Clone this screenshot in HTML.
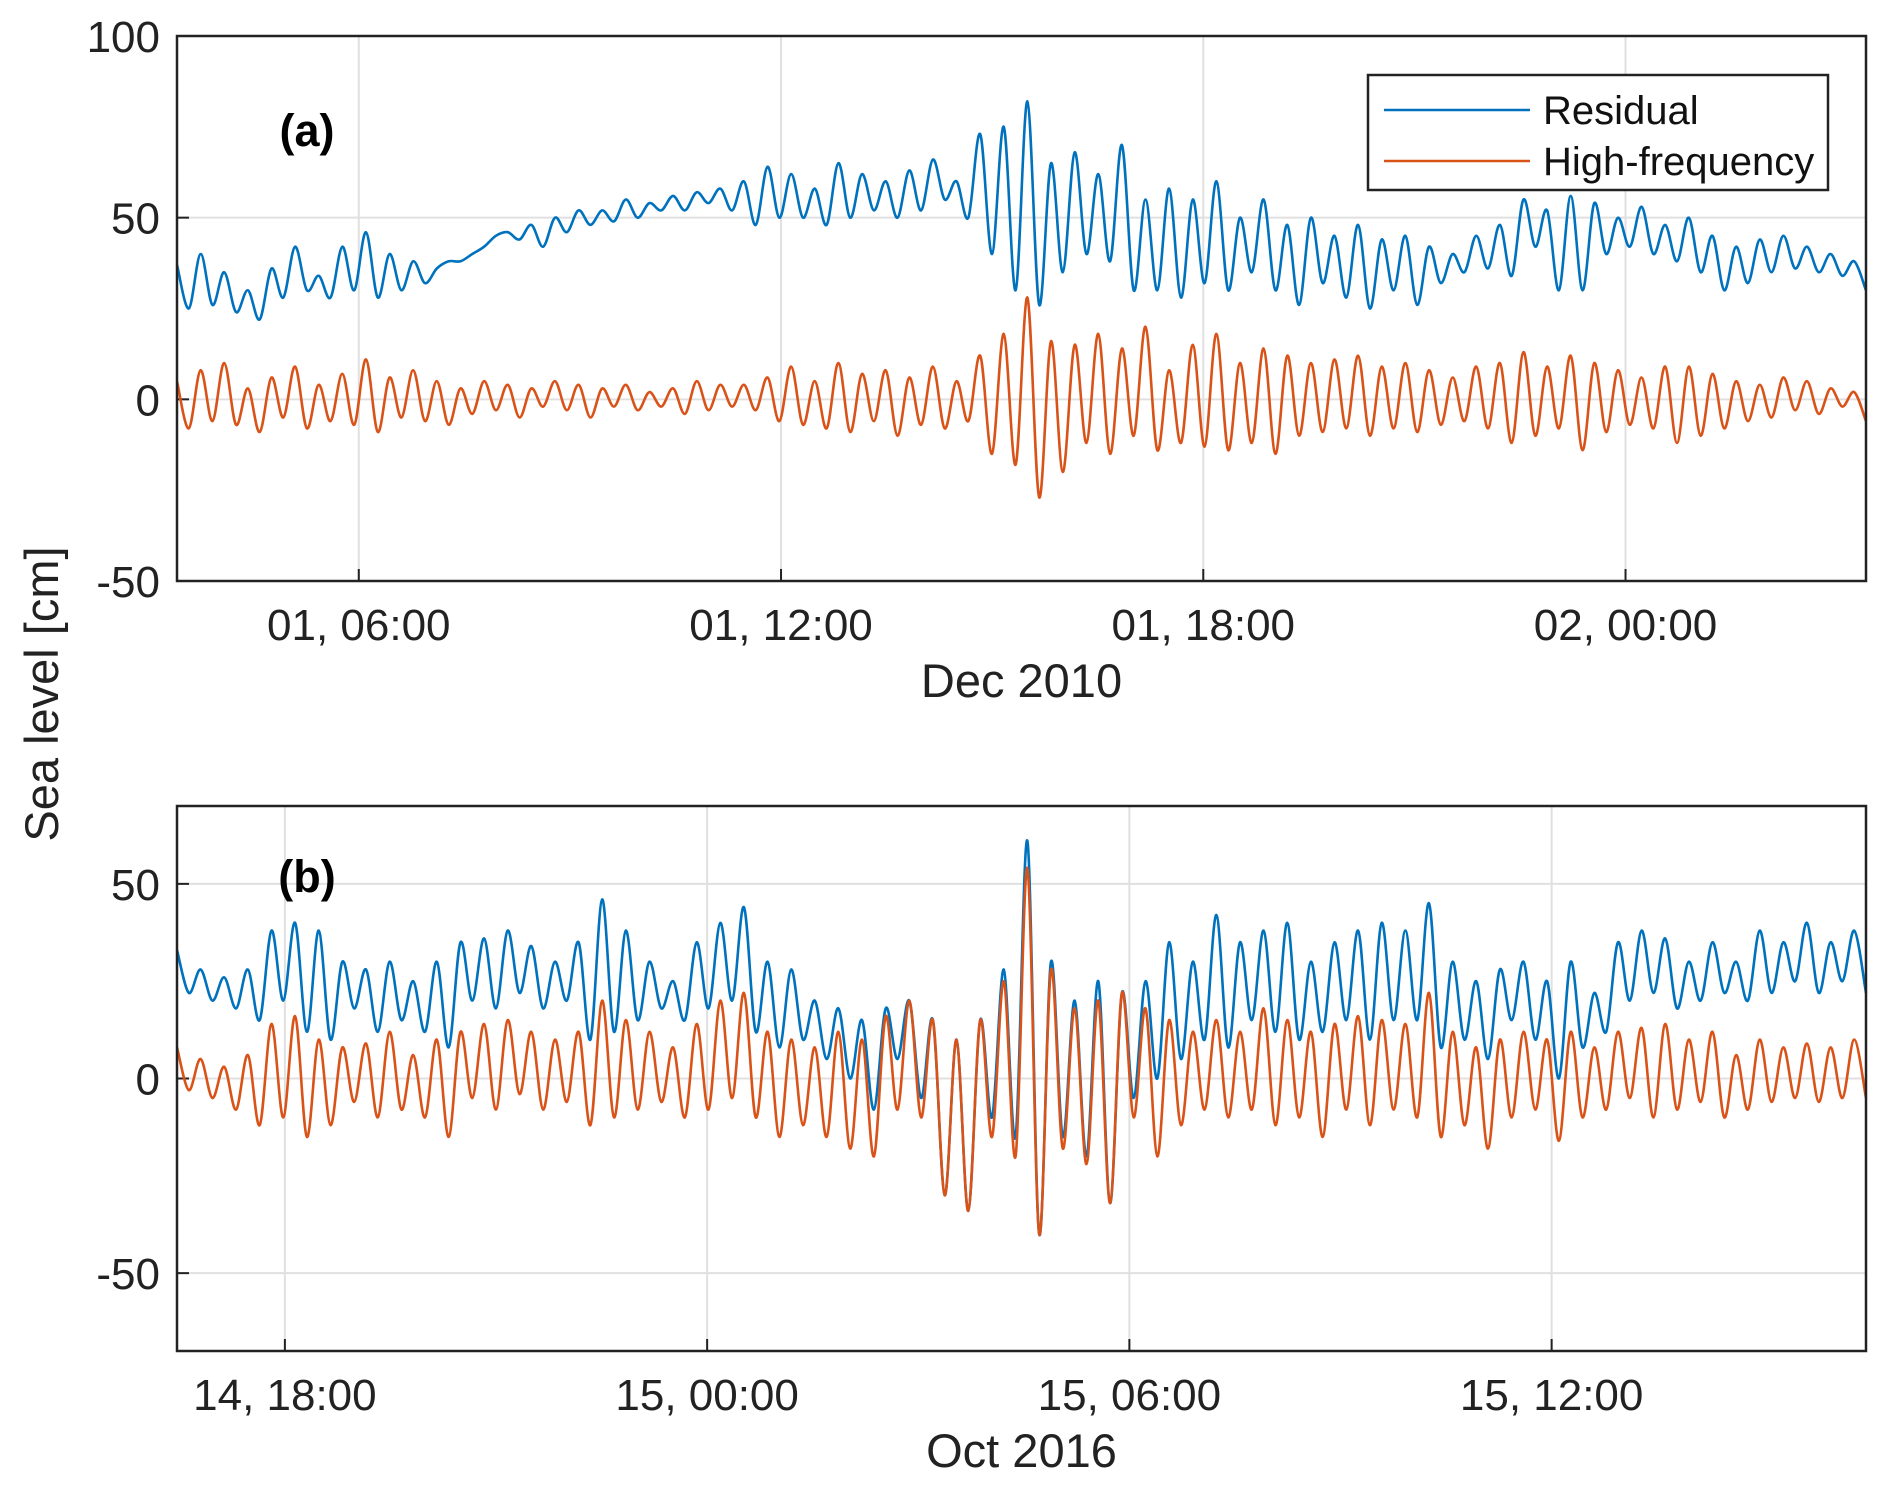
<!DOCTYPE html>
<html><head><meta charset="utf-8"><style>
html,body{margin:0;padding:0;background:#fff;}
svg{display:block;font-family:"Liberation Sans",Arial,sans-serif;}
</style></head><body>
<svg id="chart" width="1892" height="1487" viewBox="0 0 1892 1487" xmlns="http://www.w3.org/2000/svg">
<rect width="1892" height="1487" fill="#fff"/>
<text x="0" y="0" transform="translate(58,694) rotate(-90)" font-size="47" text-anchor="middle" fill="#222">Sea level [cm]</text>
<g id="pa"></g>
<g id="pb"></g>
</svg>
<script>
// Panel (a): Dec 2010, 10-minute samples from 01 03:25
const aTicks = ["01, 06:00","01, 12:00","01, 18:00","02, 00:00"];
const aYTicks = [100,50,0,-50];
const aResidual = [37,25,40,26,35,24,30,22,36,28,42,30,
34,28,42,30,46,28,40,30,38,32,36,38,
38,40,42,45,46,44,48,42,50,46,52,48,
52,49,55,50,54,52,56,52,57,54,58,52,
60,48,64,50,62,50,58,48,65,50,62,52,
60,50,63,52,66,55,60,50,73,40,75,30,
82,26,65,35,68,40,62,38,70,30,55,30,
58,28,55,32,60,30,50,35,55,30,48,26,
50,32,45,28,48,25,44,30,45,26,42,32,
40,35,45,36,48,34,55,42,52,30,56,30,
54,40,50,42,53,40,48,38,50,35,45,30,
42,32,44,35,45,36,42,35,40,34,38,30];
const aHighFreq = [5,-8,8,-6,10,-7,3,-9,6,-5,9,-8,
4,-6,7,-7,11,-9,6,-5,8,-6,5,-7,
3,-4,5,-3,4,-5,3,-2,5,-3,4,-5,
3,-2,4,-3,2,-2,3,-4,5,-3,4,-2,
4,-3,6,-6,9,-7,5,-8,10,-9,7,-6,
8,-10,6,-7,9,-8,5,-6,12,-15,18,-18,
28,-27,16,-20,15,-12,18,-15,14,-10,20,-14,
8,-12,15,-13,18,-14,10,-12,14,-15,12,-10,
10,-9,11,-8,12,-10,9,-8,10,-9,8,-7,
6,-6,9,-8,10,-12,13,-10,9,-8,12,-14,
10,-9,8,-7,6,-8,9,-12,9,-10,7,-8,
5,-6,4,-5,6,-3,5,-4,3,-2,2,-6];
// Panel (b): Oct 2016, 10-minute samples from 14 16:28
const bTicks = ["14, 18:00","15, 00:00","15, 06:00","15, 12:00"];
const bYTicks = [50,0,-50];
const bResidual = [33,22,28,20,26,18,28,15,38,20,40,12,
38,10,30,18,28,12,30,15,25,12,30,8,
35,20,36,18,38,22,34,18,30,20,35,10,
46,12,38,15,30,18,25,15,35,18,40,20,
44,12,30,8,28,10,20,5,18,0,15,-8,
18,5,20,-5,15,-30,10,-34,15,-10,28,-15,
61,-40,30,-15,20,-20,25,-32,22,-5,25,0,
35,5,30,10,42,8,35,15,38,12,40,10,
30,12,35,15,38,10,40,15,38,15,45,8,
30,10,25,5,28,15,30,10,25,0,30,8,
22,12,35,20,38,22,36,18,30,20,35,22,
30,20,38,22,35,25,40,22,35,25,38,22];
const bHighFreq = [8,-3,5,-5,3,-8,6,-12,14,-10,16,-15,
10,-12,8,-6,9,-10,12,-8,6,-10,10,-15,
12,-5,14,-8,15,-4,12,-8,10,-6,12,-12,
20,-10,15,-8,12,-6,8,-10,14,-8,20,-5,
22,-10,12,-15,10,-12,8,-15,12,-18,10,-20,
16,-8,20,-10,15,-30,10,-34,15,-15,25,-20,
54,-40,28,-18,18,-22,20,-32,22,-10,18,-20,
15,-12,12,-8,15,-10,12,-8,18,-12,15,-10,
12,-15,14,-8,16,-12,15,-8,14,-10,22,-15,
12,-12,8,-18,10,-10,12,-8,10,-16,12,-10,
8,-8,12,-5,13,-10,14,-8,10,-6,12,-10,
6,-8,10,-6,8,-5,9,-6,8,-5,10,-5];

const NS="http://www.w3.org/2000/svg";
function mk(parent,tag,attrs){const e=document.createElementNS(NS,tag);for(const k in attrs)e.setAttribute(k,attrs[k]);parent.appendChild(e);return e;}
function smoothPath(pts){
  let d='M'+pts[0][0].toFixed(1)+','+pts[0][1].toFixed(1);
  for(let i=0;i<pts.length-1;i++){
    const p0=pts[Math.max(0,i-1)],p1=pts[i],p2=pts[i+1],p3=pts[Math.min(pts.length-1,i+2)];
    const c1=[p1[0]+(p2[0]-p0[0])/6,p1[1]+(p2[1]-p0[1])/6];
    const c2=[p2[0]-(p3[0]-p1[0])/6,p2[1]-(p3[1]-p1[1])/6];
    d+='C'+c1[0].toFixed(1)+','+c1[1].toFixed(1)+' '+c2[0].toFixed(1)+','+c2[1].toFixed(1)+' '+p2[0].toFixed(1)+','+p2[1].toFixed(1);
  }
  return d;
}

function panel(g,cfg){
  const L=177,R=1866,T=cfg.top,B=cfg.bottom;
  const y=v=>T+(cfg.ymax-v)/(cfg.ymax-cfg.ymin)*(B-T);
  const hours=24; const x=h=>L+h/hours*(R-L);
  cfg.yticks.forEach(v=>{
    const l=mk(g,'line',{x1:L,x2:R,y1:y(v),y2:y(v),stroke:'#e0e0e0','stroke-width':2});
    
    
    const t=mk(g,'text',{x:L-17,y:y(v)+16,'font-size':44,'text-anchor':'end',fill:'#222'});
    t.textContent=v;
    
    
    const tk=mk(g,'line',{x1:L,x2:L+12,y1:y(v),y2:y(v),stroke:'#222','stroke-width':2});
    
    
  });
  cfg.xticks.forEach((lab,i)=>{
    const xx=x(cfg.firstTick+6*i);
    const l=mk(g,'line',{x1:xx,x2:xx,y1:T,y2:B,stroke:'#e0e0e0','stroke-width':2});
    
    
    const tk=mk(g,'line',{x1:xx,x2:xx,y1:B,y2:B-12,stroke:'#222','stroke-width':2});
    
    
    const t=mk(g,'text',{x:xx,y:B+59,'font-size':44,'text-anchor':'middle',fill:'#222'});
    t.textContent=lab;
    
    
  });
  const series=[[cfg.res,'#0072BD','residual-line'],[cfg.hf,'#D95319','high-frequency-line']];
  series.forEach(([arr,col,name])=>{
    const n=arr.length;
    const pts=arr.map((v,i)=>[x(i*hours/(n-1)),y(v)]);
    const p=mk(g,'path',{d:smoothPath(pts),fill:'none',stroke:col,'stroke-width':2.6,'stroke-linejoin':'round'});
    
    
  });
  const box=mk(g,'rect',{x:L,y:T,width:R-L,height:B-T,fill:'none',stroke:'#222','stroke-width':2.5});
  
  
  const pl=mk(g,'text',{x:307,y:cfg.labelY,'font-size':45,'font-weight':'bold','text-anchor':'middle',fill:'#000'});
  pl.textContent=cfg.label;
  
  
  const xt=mk(g,'text',{x:(L+R)/2,y:B+116,'font-size':47,'text-anchor':'middle',fill:'#222'});
  xt.textContent=cfg.xtitle;
  
  
}
panel(document.getElementById('pa'),{top:36,bottom:581,ymin:-50,ymax:100,yticks:aYTicks,xticks:aTicks,firstTick:2.583,res:aResidual,hf:aHighFreq,label:'(a)',labelY:146,xtitle:'Dec 2010'});
panel(document.getElementById('pb'),{top:806,bottom:1351,ymin:-70,ymax:70,yticks:bYTicks,xticks:bTicks,firstTick:1.533,res:bResidual,hf:bHighFreq,label:'(b)',labelY:892,xtitle:'Oct 2016'});

const lg=mk(document.getElementById('pa'),'g',{});


const lb=mk(lg,'rect',{x:1368,y:75,width:460,height:115,fill:'#fff',stroke:'#222','stroke-width':2.5});


[['Residual','#0072BD',110],['High-frequency','#D95319',161]].forEach(([t,c,yy])=>{
  const l=mk(lg,'line',{x1:1384,x2:1530,y1:yy,y2:yy,stroke:c,'stroke-width':2.6});
  
  
  const tx=mk(lg,'text',{x:1543,y:yy+14,'font-size':40,fill:'#111'});
  tx.textContent=t;
  
  
});
</script>
</body></html>
